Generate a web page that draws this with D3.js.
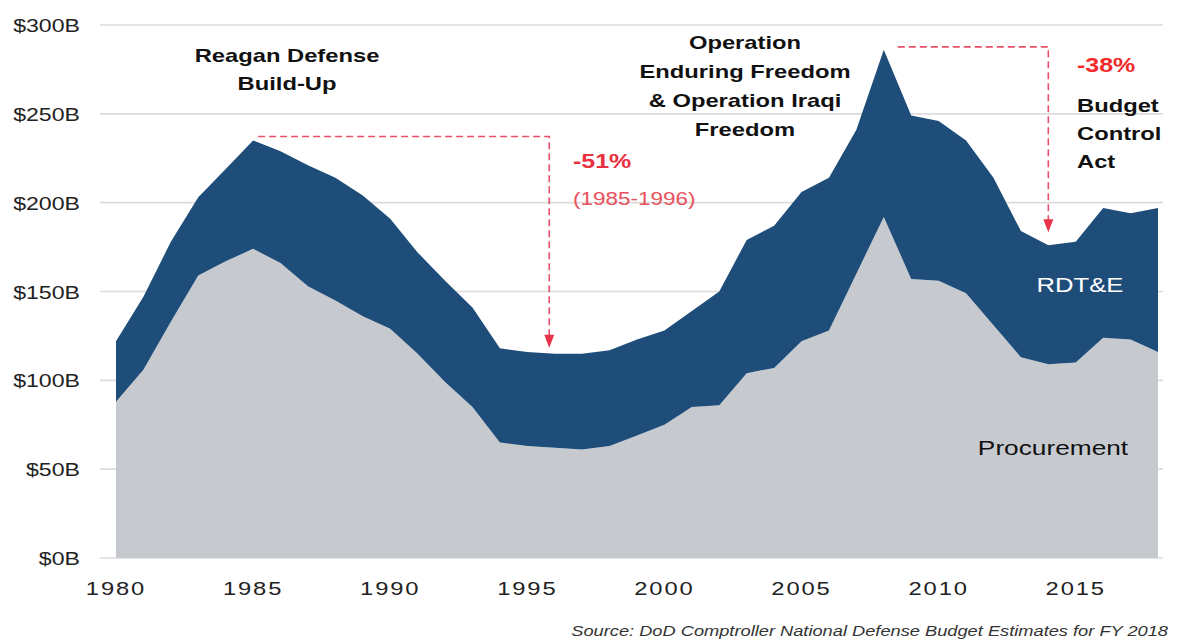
<!DOCTYPE html>
<html><head><meta charset="utf-8">
<script src="https://cdn.jsdelivr.net/npm/d3@7/dist/d3.min.js"></script>
<style>body{margin:0;background:#fff}svg{display:block;font-family:"Liberation Sans",Arial,sans-serif}</style>
</head><body>
<svg id="chart" width="1178" height="642"></svg>
<script>
const years = [1980,1981,1982,1983,1984,1985,1986,1987,1988,1989,1990,1991,1992,1993,1994,1995,1996,1997,1998,1999,
               2000,2001,2002,2003,2004,2005,2006,2007,2008,2009,2010,2011,2012,2013,2014,2015,2016,2017,2018];
const procurement = [88,106,133,159,167,174,166,153,145,136,129,115,99,85,65,63,62,61,63,69,
                     75,85,86,104,107,122,128,160,192,157,156,149,131,113,109,110,124,123,116];
const rdte = [34,41,45,44,52,61,63,68,69,68,62,57,57,56,53,53,53,54,54,54,
              53,54,64,75,80,84,86,81,94,92,90,86,83,71,67,68,73,71,81];
const yTicks = [0,50,100,150,200,250,300];
const yTickLabels = ["$0B","$50B","$100B","$150B","$200B","$250B","$300B"];
const xTicks = [1980,1985,1990,1995,2000,2005,2010,2015];
const seriesNames = ["Procurement","RDT&E"];

const SX = 1.25;
const svg = d3.select("#chart");
const x = d3.scaleLinear().domain([1980,2018]).range([116,1158]);
const y = d3.scaleLinear().domain([0,300]).range([558,25]);

const rows = years.map((yr,i)=>({year:yr, "Procurement":procurement[i], "RDT&E":rdte[i]}));
const stacked = d3.stack().keys(seriesNames)(rows);
const colors = {"Procurement":"#c6cacf","RDT&E":"#1f4d7a"};

function txt(px, py, s, o={}) {
  return svg.append("text")
    .attr("transform", `translate(${px},${py}) scale(${o.sx||SX},1)`)
    .attr("text-anchor", o.anchor||"start")
    .attr("font-size", o.size||19)
    .attr("font-weight", o.weight||"normal")
    .attr("font-style", o.style||"normal")
    .attr("letter-spacing", o.ls||0)
    .attr("fill", o.fill||"#222")
    .text(s);
}

// gridlines
svg.append("g").selectAll("line").data(yTicks).join("line")
  .attr("x1",100).attr("x2",1163)
  .attr("y1",d=>y(d)).attr("y2",d=>y(d))
  .attr("stroke","#dcdcdc").attr("stroke-width",1.6);

// areas
const area = d3.area().x(d=>x(d.data.year)).y0(d=>y(d[0])).y1(d=>y(d[1])).curve(d3.curveLinear);
svg.append("g").selectAll("path").data(stacked).join("path")
  .attr("d", area).attr("fill", d=>colors[d.key]);

// y axis labels
yTicks.forEach((t,i)=>{
  txt(80, y(t)+7, yTickLabels[i], {anchor:"end", size:18.5, fill:"#222"});
});
// x axis labels
xTicks.forEach(t=>{
  txt(x(t), 595, String(t), {anchor:"middle", size:19, ls:1.5, fill:"#222"});
});

// series labels
txt(1053, 455, "Procurement", {anchor:"middle", size:21, fill:"#111"});
txt(1080, 292, "RDT&E", {anchor:"middle", size:20.5, fill:"#ffffff"});

// annotations
const bold = {anchor:"middle", size:19, weight:"bold", fill:"#111"};
txt(287, 62, "Reagan Defense", bold);
txt(287, 90, "Build-Up", bold);
txt(745, 49, "Operation", bold);
txt(745, 78, "Enduring Freedom", bold);
txt(745, 107, "& Operation Iraqi", bold);
txt(745, 136, "Freedom", bold);
txt(1077, 112, "Budget", {size:19, weight:"bold", fill:"#111"});
txt(1077, 140, "Control", {size:19, weight:"bold", fill:"#111"});
txt(1077, 168, "Act", {size:19, weight:"bold", fill:"#111"});

const red = "#e83040";
txt(573, 168, "-51%", {size:20, weight:"bold", fill:red});
txt(573, 205, "(1985-1996)", {size:18, fill:"#e8505c"});
txt(1077, 72, "-38%", {size:20, weight:"bold", fill:"#f02a2a"});

// dashed arrows
const total = years.map((_,i)=>procurement[i]+rdte[i]);
function dashedArrow(x0, yh, xv, ytip) {
  svg.append("path")
    .attr("d", `M${x0},${yh}H${xv}V${ytip-12}`)
    .attr("fill","none").attr("stroke","#e8506a").attr("stroke-width",1.6)
    .attr("stroke-dasharray","7,4");
  svg.append("path")
    .attr("d", `M${xv-5},${ytip-13}L${xv+5},${ytip-13}L${xv},${ytip}Z`)
    .attr("fill","#e8334a");
}
const i85 = years.indexOf(1985), i96 = years.indexOf(1996);
const i08 = years.indexOf(2008), i14 = years.indexOf(2014);
dashedArrow(x(1985)+5, y(total[i85])-4, x(1995.8), y(total[i96])-6);
dashedArrow(x(2008)+14, y(total[i08])-3, x(2014), y(total[i14])-13);

// source
txt(1168, 636, "Source: DoD Comptroller National Defense Budget Estimates for FY 2018",
    {anchor:"end", size:14.6, style:"italic", fill:"#333"});
</script>
</body></html>
